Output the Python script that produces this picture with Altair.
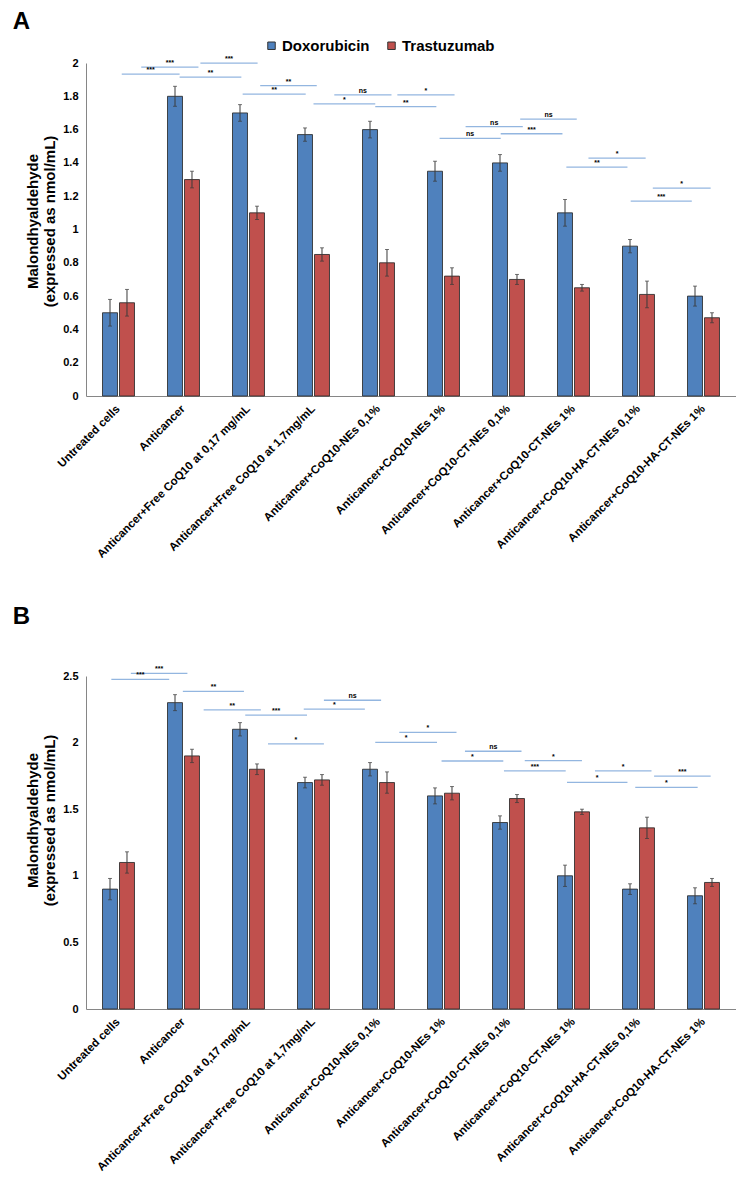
import altair as alt
import pandas as pd

categories = [
    "Untreated cells",
    "Anticancer",
    "Anticancer+Free CoQ10 at 0,17 mg/mL",
    "Anticancer+Free CoQ10 at 1,7mg/mL",
    "Anticancer+CoQ10-NEs 0,1%",
    "Anticancer+CoQ10-NEs 1%",
    "Anticancer+CoQ10-CT-NEs 0,1%",
    "Anticancer+CoQ10-CT-NEs 1%",
    "Anticancer+CoQ10-HA-CT-NEs 0,1%",
    "Anticancer+CoQ10-HA-CT-NEs 1%",
]
series = ["Doxorubicin", "Trastuzumab"]
colors = ["#4F81BD", "#C0504D"]
y_title = ["Malondhyaldehyde", "(expressed as  nmol/mL)"]

# Panel A values
a_dox = [0.50, 1.80, 1.70, 1.57, 1.60, 1.35, 1.40, 1.10, 0.90, 0.60]
a_dox_err = [0.08, 0.06, 0.05, 0.04, 0.05, 0.06, 0.05, 0.08, 0.04, 0.06]
a_tra = [0.56, 1.30, 1.10, 0.85, 0.80, 0.72, 0.70, 0.65, 0.61, 0.47]
a_tra_err = [0.08, 0.05, 0.04, 0.04, 0.08, 0.05, 0.03, 0.02, 0.08, 0.03]

# Panel A significance brackets (category units, value units)
a_sig_x1 = [0.35, 0.05, 1.26, 0.94, 2.18, 1.91, 3.32, 3.00, 3.95, 4.29, 5.34, 4.94, 6.18, 5.88, 7.23, 6.89, 8.22, 7.88]
a_sig_x2 = [1.23, 0.94, 2.14, 1.89, 3.05, 2.88, 4.20, 3.95, 4.89, 5.17, 6.22, 5.88, 7.05, 6.83, 8.11, 7.83, 9.11, 8.82]
a_sig_y = [1.975, 1.933, 1.999, 1.915, 1.864, 1.813, 1.809, 1.755, 1.738, 1.809, 1.618, 1.547, 1.663, 1.575, 1.429, 1.375, 1.249, 1.171]
a_sig_lab = ["***", "***", "***", "**", "**", "**", "ns", "*", "**", "*", "ns", "ns", "ns", "***", "*", "**", "*", "***"]

# Panel B values
b_dox = [0.90, 2.30, 2.10, 1.70, 1.80, 1.60, 1.40, 1.00, 0.90, 0.85]
b_dox_err = [0.08, 0.06, 0.05, 0.04, 0.05, 0.06, 0.05, 0.08, 0.04, 0.06]
b_tra = [1.10, 1.90, 1.80, 1.72, 1.70, 1.62, 1.58, 1.48, 1.36, 0.95]
b_tra_err = [0.08, 0.05, 0.04, 0.04, 0.08, 0.05, 0.03, 0.02, 0.08, 0.03]

b_sig_x1 = [0.19, -0.11, 0.99, 1.31, 1.95, 2.30, 3.16, 2.85, 4.32, 3.95, 5.33, 4.97, 6.25, 5.93, 7.33, 6.90, 8.24, 7.95]
b_sig_x2 = [1.06, 0.78, 1.93, 2.19, 2.90, 3.16, 4.04, 3.79, 5.20, 4.90, 6.20, 5.92, 7.13, 6.88, 8.20, 7.83, 9.11, 8.91]
b_sig_y = [2.52, 2.475, 2.385, 2.245, 2.207, 1.99, 2.318, 2.252, 2.077, 2.002, 1.935, 1.862, 1.864, 1.787, 1.787, 1.702, 1.749, 1.664]
b_sig_lab = ["***", "***", "**", "**", "***", "*", "ns", "*", "*", "*", "ns", "*", "*", "***", "*", "*", "***", "*"]

FONT = "Liberation Sans"


def panel(letter, dox, dox_err, tra, tra_err, sx1, sx2, sy, slab, ymax, ystep, title_y, title_offset):
    rows = []
    for i, c in enumerate(categories):
        rows.append(dict(cat=c, series=series[0], value=dox[i], lo=dox[i] - dox_err[i], hi=dox[i] + dox_err[i]))
        rows.append(dict(cat=c, series=series[1], value=tra[i], lo=tra[i] - tra_err[i], hi=tra[i] + tra_err[i]))
    df = pd.DataFrame(rows)
    sig = pd.DataFrame(dict(x1=sx1, x2=sx2, y=sy, label=slab))
    sig["xm"] = (sig["x1"] + sig["x2"]) / 2

    nt = int(round(ymax / ystep))
    yvals = [round(k * ystep, 2) for k in range(nt + 1)]
    yscale = alt.Scale(domain=[0, ymax], nice=False, zero=True)
    yaxis = alt.Axis(
        values=yvals, format="~g", grid=False, ticks=False, domainColor="#868686",
        labelFontSize=11, labelFontWeight="bold", labelColor="#000000", labelPadding=8,
        labelOverlap=False,
        titleFontSize=15, titleFontWeight="bold", titleColor="#000000", titleLineHeight=17,
        titlePadding=5, titleY=title_y,
    )

    def Y(field):
        return alt.Y(field, scale=yscale, axis=yaxis, title=y_title)

    x = alt.X(
        "cat:N", sort=categories, title=None,
        scale=alt.Scale(paddingInner=0.508, paddingOuter=0.254),
        axis=alt.Axis(labelAngle=-45, labelAlign="right", labelBaseline="middle", labelFontSize=11.5,
                      labelFontWeight="bold", labelColor="#000000", labelLimit=400, ticks=False,
                      domainColor="#868686", labelPadding=11),
    )
    xo = alt.XOffset("series:N", sort=series, scale=alt.Scale(paddingInner=0.118, paddingOuter=0))

    bars = alt.Chart(df).mark_bar(stroke="#2b2b2b", strokeWidth=1, strokeOpacity=0.85).encode(
        x=x, xOffset=xo,
        y=Y("value:Q"),
        color=alt.Color(
            "series:N", sort=series, scale=alt.Scale(domain=series, range=colors),
            legend=alt.Legend(
                orient="none", legendX=178, legendY=-25, direction="horizontal", title=None,
                symbolType="square", symbolSize=56, symbolStrokeColor="#333333", symbolStrokeWidth=1,
                labelFontSize=15, labelFontWeight="bold", labelColor="#000000", columnPadding=14,
                labelOffset=3,
            ),
        ),
    )
    err = alt.Chart(df).mark_rule(color="#3a3a3a", strokeWidth=1).encode(
        x=x, xOffset=xo, y=Y("lo:Q"), y2="hi:Q"
    )
    cap_hi = alt.Chart(df).mark_tick(color="#3a3a3a", size=4, thickness=1).encode(
        x=x, xOffset=xo, y=Y("hi:Q")
    )
    cap_lo = alt.Chart(df).mark_tick(color="#3a3a3a", size=4, thickness=1).encode(
        x=x, xOffset=xo, y=Y("lo:Q")
    )

    xs = alt.Scale(domain=[-0.5, 9.5], nice=False, zero=False)
    lines = alt.Chart(sig).mark_rule(color="#93B6E0", strokeWidth=1.3).encode(
        x=alt.X("x1:Q", scale=xs, axis=None), x2="x2:Q",
        y=Y("y:Q"),
    )
    labels = alt.Chart(sig).mark_text(fontSize=7, fontWeight="bold", baseline="bottom", dy=-1, color="#000000").encode(
        x=alt.X("xm:Q", scale=xs, axis=None),
        y=Y("y:Q"),
        text="label:N",
    )

    base = alt.layer(bars, err, cap_hi, cap_lo)
    ann = alt.layer(lines, labels)
    return alt.layer(base, ann).resolve_scale(x="independent").properties(
        width=650, height=333,
        title=alt.Title(letter, anchor="start", frame="bounds", fontSize=24, fontWeight="bold",
                        color="#000000", dx=-13, offset=title_offset),
    )


chart_a = panel("A", a_dox, a_dox_err, a_tra, a_tra_err, a_sig_x1, a_sig_x2, a_sig_y, a_sig_lab, 2.0, 0.2, 158, 21)
chart_b = panel("B", b_dox, b_dox_err, b_tra, b_tra_err, b_sig_x1, b_sig_x2, b_sig_y, b_sig_lab, 2.5, 0.5, 144, 36)

chart = alt.vconcat(chart_a, chart_b, spacing=45).properties(
    padding={"left": 4, "top": 2, "right": 0, "bottom": 0}
).configure(font=FONT).configure_view(stroke=None)

chart.save("out.html", embed_options={"renderer": "svg", "actions": False})
